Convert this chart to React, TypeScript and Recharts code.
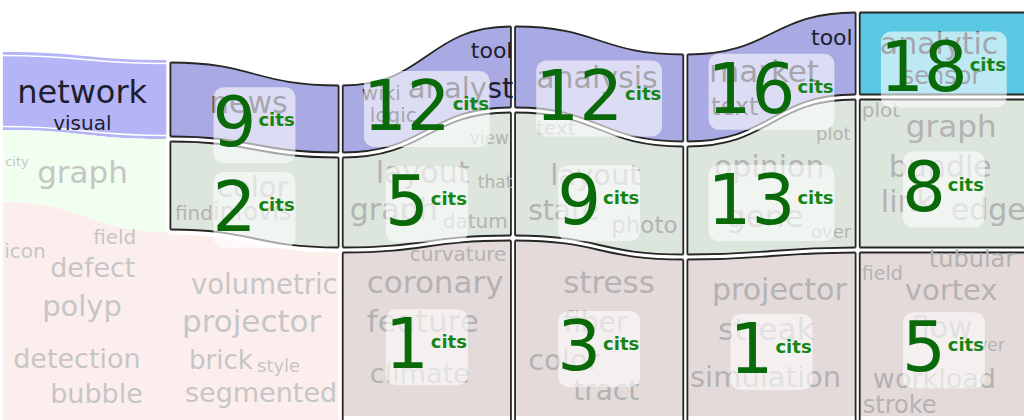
import React from 'react';
import { ComposedChart, XAxis, YAxis, Area, Line, Scatter } from 'recharts';

// ---- stream (topic weights) at the 7 period boundaries (period 0 = context) ----
const streamTop = [52, 60, 83, 24, 52, 10, 10];
const blueWeight = [78, 79, 72, 86, 92, 87, 87];
const greenWeight = [72, 93, 95, 128, 113, 153, 153];
const redWeight = [218, 188, 169, 181, 162, 169, 169];

// ---- citations per period and topic ----
const citsBlue = [0, 9, 12, 12, 16, 18];
const citsGreen = [0, 2, 5, 9, 13, 8];
const citsRed = [0, 0, 1, 3, 1, 5];

// ---- word clouds per period and topic ----
const wordsBlue = [
  ['network', 'visual'],
  ['news'],
  ['tool', 'wiki', 'analyst', 'logic'],
  ['analysis'],
  ['tool', 'market', 'text'],
  ['analytic', 'sensor'],
];
const wordsGreen = [
  ['city', 'graph'],
  ['color', 'find', 'infovis'],
  ['view', 'layout', 'that', 'graph', 'datum'],
  ['text', 'layout', 'state', 'photo'],
  ['plot', 'opinion', 'gene', 'over'],
  ['plot', 'graph', 'bundle', 'link', 'edge'],
];
const wordsRed = [
  ['field', 'icon', 'defect', 'polyp', 'detection', 'bubble'],
  ['volumetric', 'projector', 'brick', 'style', 'segmented'],
  ['curvature', 'coronary', 'feature', 'climate'],
  ['stress', 'fiber', 'color', 'tract'],
  ['projector', 'streak', 'simulation'],
  ['tubular', 'field', 'vortex', 'flow', 'over', 'workload', 'stroke'],
];

// ---- word layout: [dx, dy, fontSize] relative to the cell centre (px) ----
const layoutBlue: number[][][] = [
  [[-65, 8, 32], [-29, 35, 20]],
  [[-44.5, 4, 30]],
  [[44, -35, 22], [-65, 7, 20], [-19, 5, 29], [-57, 29, 20]],
  [[-63, 5.5, 30]],
  [[39.5, -31, 22], [-62.5, 6, 31], [-60.5, 39, 24]],
  [[-64, 0, 30], [-42, 30, 24]],
];
const layoutGreen: number[][][] = [
  [[-77, -10, 13], [-45, 7, 31]],
  [[-37.5, 3, 29], [-79.5, 26, 20], [-41.5, 26, 24]],
  [[43, -44, 17], [-51, -5, 30], [51, 0, 17], [-77, 32, 30], [16, 40, 20]],
  [[-63, -52, 20], [-49, -2, 29], [-71, 33, 28], [12, 46, 23]],
  [[44.5, -47, 18], [-57.5, -10, 30], [-45.5, 40, 31], [39.5, 51, 18]],
  [[-82, -56.5, 20], [-38, -36.5, 31], [-55, 3.5, 30], [-63, 38.5, 30], [7, 46.5, 30]],
];
const layoutRed: number[][][] = [
  [[11, -75, 20], [-78, -61, 20], [-32, -42, 27], [-40, -3, 29], [-69, 49, 27], [-32, 84, 27]],
  [[-63.5, -38, 27.5], [-72.5, 0, 31], [-65.5, 37, 26], [2.5, 40, 18], [-69.5, 70, 27]],
  [[-17, -70.5, 20], [-60, -38.5, 31], [-60, 0.5, 31], [-57, 51.5, 27]],
  [[-36, -40, 31], [-36, -1, 28], [-71, 37, 29], [-26, 67, 28]],
  [[-59.5, -36, 30], [-53.5, 4, 31], [-81.5, 51, 29]],
  [[-15, -67.5, 24], [-82, -54.5, 19], [-39, -34.5, 29], [-33, 3.5, 30], [23, 16.5, 17], [-71, 53.5, 27], [-81, 78.5, 24]],
];

// ---- styles ----
const FONT = 'DejaVu Sans';
const bgColors = ['#b4b4f7', '#f1fff1', '#fdeeee'];
const cellColors = ['#a9a9e4', '#dce6dc', '#e5dada'];
const highlightColor = '#5bc8e3';
const BORDER = '#262626';
const BW = 1.8;
const INSET = 2.5;
const EX = 0.012;
const BOTTOM_EDGE = 416;
const PLOT_BOTTOM = 420;

// derived boundaries
const b1 = streamTop.map((t, i) => t + blueWeight[i]);
const b2 = b1.map((v, i) => v + greenWeight[i]);
const b3 = b2.map((v, i) => v + redWeight[i]);
const bounds = [streamTop, b1, b2, b3];
const cits = [citsBlue, citsGreen, citsRed];
const words = [wordsBlue, wordsGreen, wordsRed];
const layouts = [layoutBlue, layoutGreen, layoutRed];

const isCell = (k: number, c: number) => c > 0 && cits[k][c] > 0;

function cellRange(k: number, c: number, i: number): [number, number] {
  const lo = bounds[k][i];
  const hi = bounds[k + 1][i];
  if (c === 0) return [lo, k === 2 ? PLOT_BOTTOM : hi];
  if (isCell(k, c)) return [lo + INSET, k === 2 ? BOTTOM_EDGE : hi - INSET];
  return [lo + INSET, PLOT_BOTTOM];
}

function cellCenter(k: number, c: number) {
  const r0 = cellRange(k, c, c);
  const r1 = cellRange(k, c, c + 1);
  return (r0[0] + r0[1] + r1[0] + r1[1]) / 4;
}

const renderPoint = (props: any) => {
  const { cx, cy, payload } = props;
  if (cx == null || cy == null) return <g />;
  if (payload.kind === 'word') {
    const fill = payload.dark ? '#1e1e2e' : payload.inCell ? '#b3b3b3' : '#c6c6c6';
    return (
      <text x={cx + payload.dx} y={cy + payload.dy} fontSize={payload.size} fontFamily={FONT} fill={fill}>
        {payload.text}
      </text>
    );
  }
  const n = String(payload.cits);
  const numW = n.length * 0.636 * 69;
  const w = numW + 38;
  const x0 = cx - w / 2;
  const yc = cy + 16;
  return (
    <g>
      <rect x={x0} y={yc - 38} width={w} height={76} rx={10} ry={10} fill="#ffffff" fillOpacity={0.6} />
      <text x={x0 - 1} y={yc + 21} fontSize={69} fontFamily={FONT} fill="#0a6a0a">
        {n}
      </text>
      <text x={x0 + numW + 1} y={yc + 1} fontSize={18} fontWeight="bold" fontFamily={FONT} fill="#168516">
        cits
      </text>
    </g>
  );
};

export default function App() {
  const areas: React.ReactElement[] = [];
  const lines: React.ReactElement[] = [];
  const wordPoints: any[] = [];
  const labelPoints: any[] = [];

  const areaCommon = { dataKey: 'v', type: 'bumpX' as const, dot: false, activeDot: false, isAnimationActive: false };
  const lineCommon = {
    dataKey: 'y',
    stroke: BORDER,
    strokeWidth: BW,
    dot: false,
    activeDot: false,
    isAnimationActive: false,
  };

  for (let k = 0; k < 3; k++) {
    for (let c = 0; c < 6; c++) {
      const r0 = cellRange(k, c, c);
      const r1 = cellRange(k, c, c + 1);
      if (c === 0) {
        const xr = k === 2 ? 1 : 1 - EX;
        areas.push(
          <Area
            key={`bg-${k}-${c}`}
            {...areaCommon}
            data={[{ x: 0.04, v: r0 }, { x: xr, v: r1 }]}
            fill={bgColors[k]}
            fillOpacity={1}
            stroke="none"
          />
        );
        if (k === 0) {
          areas.push(
            <Area
              key={`bgline-${k}`}
              {...areaCommon}
              data={[
                { x: 0.04, v: [r0[0] + 3.5, r0[1] - 3.5] },
                { x: xr, v: [r1[0] + 3.5, r1[1] - 3.5] },
              ]}
              fill="none"
              stroke="#ffffff"
              strokeWidth={1.3}
            />
          );
        }
      } else if (isCell(k, c)) {
        const fill = k === 0 && c === 5 ? highlightColor : cellColors[k];
        const openBottom = k === 2;
        areas.push(
          <Area
            key={`cell-${k}-${c}`}
            {...areaCommon}
            data={[{ x: c + EX, v: r0 }, { x: c + 1 - EX, v: r1 }]}
            fill={fill}
            fillOpacity={1}
            stroke={openBottom ? 'none' : BORDER}
            strokeWidth={BW}
          />
        );
        if (openBottom) {
          lines.push(
            <Line
              key={`top-${k}-${c}`}
              {...lineCommon}
              type="bumpX"
              data={[{ x: c + EX, y: r0[0] }, { x: c + 1 - EX, y: r1[0] }]}
            />
          );
        }
        const bottomL = openBottom ? PLOT_BOTTOM : r0[1];
        const bottomR = openBottom ? PLOT_BOTTOM : r1[1];
        lines.push(
          <Line
            key={`vl-${k}-${c}`}
            {...lineCommon}
            type="linear"
            data={[{ x: c + EX, y: r0[0] }, { x: c + EX, y: bottomL }]}
          />
        );
        lines.push(
          <Line
            key={`vr-${k}-${c}`}
            {...lineCommon}
            type="linear"
            data={[{ x: c + 1 - EX, y: r1[0] }, { x: c + 1 - EX, y: bottomR }]}
          />
        );
      } else {
        areas.push(
          <Area
            key={`bg-${k}-${c}`}
            {...areaCommon}
            data={[{ x: c, v: r0 }, { x: c + 1 - EX, v: r1 }]}
            fill={bgColors[k]}
            fillOpacity={1}
            stroke="none"
          />
        );
      }

      const cy = cellCenter(k, c);
      words[k][c].forEach((text, i) => {
        const [dx, dy, size] = layouts[k][c][i];
        wordPoints.push({
          x: c + 0.5,
          y: cy,
          kind: 'word',
          text,
          dx,
          dy,
          size,
          dark: k === 0,
          inCell: isCell(k, c),
        });
      });
      if (isCell(k, c)) {
        labelPoints.push({ x: c + 0.5, y: cy, kind: 'label', cits: cits[k][c] });
      }
    }
  }

  const points = [...wordPoints, ...labelPoints];

  return (
    <div
      style={{
        position: 'absolute',
        left: 0,
        top: 0,
        width: 1024,
        height: 420,
        overflow: 'hidden',
        background: '#ffffff',
      }}
    >
      <div style={{ position: 'absolute', left: -4, top: 0 }}>
        <ComposedChart width={1042} height={420} margin={{ top: 0, right: 8, bottom: 0, left: 0 }}>
          <XAxis type="number" dataKey="x" domain={[0, 6]} hide allowDataOverflow />
          <YAxis type="number" dataKey="y" domain={[0, 420]} reversed hide allowDataOverflow />
          {areas}
          {lines}
          <Scatter data={points} shape={renderPoint} isAnimationActive={false} />
        </ComposedChart>
      </div>
    </div>
  );
}
